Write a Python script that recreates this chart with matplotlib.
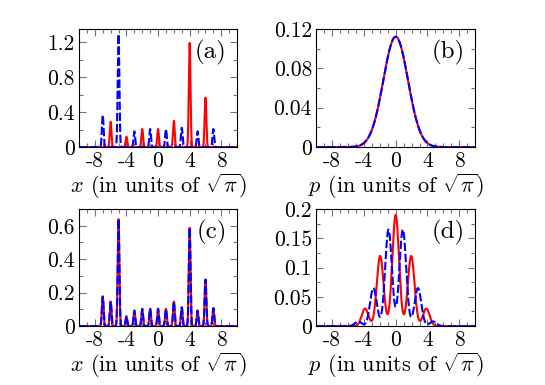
import matplotlib
matplotlib.use('Agg')
import matplotlib.pyplot as plt
from matplotlib.ticker import MultipleLocator, FuncFormatter
import numpy as np

# peak positions / heights
# panel (a): position distributions of the two states
a_red_pos = [-6, -4, -2, 0, 2, 4, 6]
a_red_height = [0.29, 0.118, 0.206, 0.206, 0.30, 1.19, 0.565]
a_blue_pos = [-7, -5, -3, -1, 1, 3, 5, 7]
a_blue_height = [0.367, 1.29, 0.18, 0.206, 0.206, 0.22, 0.18, 0.206]
a_width = 0.105

# panel (b): momentum distributions (both the same gaussian)
b_pos = [0]
b_height = [0.112]
b_width = 1.55

# panel (c): position distributions of the mixture
c_pos = [-7, -6, -5, -4, -3, -2, -1, 0, 1, 2, 3, 4, 5, 6, 7]
c_height = [0.177, 0.147, 0.64, 0.058, 0.093, 0.103, 0.103, 0.103,
            0.103, 0.147, 0.112, 0.588, 0.093, 0.278, 0.107]
c_width = 0.105

# panel (d): momentum distributions with fringes
d_red_pos = [-3.85, -1.95, 0, 1.95, 3.85]
d_red_height = [0.03, 0.12, 0.19, 0.12, 0.03]
d_blue_pos = [-4.7, -2.8, -0.9, 0.9, 2.8, 4.7]
d_blue_height = [0.008, 0.065, 0.165, 0.165, 0.065, 0.008]
d_width = 0.42

xticks = [-8, -4, 0, 4, 8]
xticklabels = ['-8', '-4', '0', '4', '8']

plt.rcParams['font.family'] = ['cmr10', 'DejaVu Serif']
plt.rcParams['mathtext.fontset'] = 'cm'
plt.rcParams['axes.unicode_minus'] = False
plt.rcParams['axes.formatter.use_mathtext'] = True

grid = np.linspace(-10, 10, 4001)


# build a curve out of a list of gaussian peaks
def peaks(pos: list, height: list, width: float):
    y = np.zeros_like(grid)
    for p, h in zip(pos, height):
        y += h * np.exp(-(grid - p) ** 2 / (2 * width ** 2))
    return y


# common look of one panel
def style_panel(ax, ymax, ymajor, yminor, xlabel, tag):
    ax.set_xlim(-10, 10)
    ax.set_ylim(0, ymax)
    ax.set_xticks(xticks)
    ax.set_xticklabels(xticklabels)
    ax.xaxis.set_minor_locator(MultipleLocator(1))
    ax.yaxis.set_major_locator(MultipleLocator(ymajor))
    ax.yaxis.set_minor_locator(MultipleLocator(yminor))
    ax.yaxis.set_major_formatter(FuncFormatter(lambda v, p: '{0:g}'.format(round(v, 4))))
    ax.tick_params(which='both', direction='in', top=True, right=True,
                   color='0.45', labelsize=15.5, pad=3)
    ax.tick_params(which='major', length=5, width=0.8)
    ax.tick_params(which='minor', length=2.8, width=0.8)
    for s in ax.spines.values():
        s.set_linewidth(0.8)
    ax.set_xlabel(xlabel, fontsize=16, labelpad=1)
    ax.text(0.935, 0.8, tag, transform=ax.transAxes, ha='right', va='center', fontsize=18)


def draw(ax, red, blue):
    ax.plot(grid, red, color='red', lw=1.5)
    ax.plot(grid, blue, color='blue', lw=1.5, dashes=(4, 1.3))


fig = plt.figure(figsize=(5.45, 3.85), dpi=100)

xl = r'$x$ (in units of $\sqrt{\pi}$)'
pl = r'$p$ (in units of $\sqrt{\pi}$)'

ax = fig.add_axes([0.145, 0.618, 0.29, 0.307])
draw(ax, peaks(a_red_pos, a_red_height, a_width), peaks(a_blue_pos, a_blue_height, a_width))
style_panel(ax, 1.35, 0.4, 0.2, xl, '(a)')

ax = fig.add_axes([0.58, 0.618, 0.292, 0.307])
draw(ax, peaks(b_pos, b_height, b_width), peaks(b_pos, b_height, b_width))
style_panel(ax, 0.12, 0.04, 0.02, pl, '(b)')

ax = fig.add_axes([0.145, 0.153, 0.29, 0.304])
draw(ax, peaks(c_pos, c_height, c_width), peaks(c_pos, c_height, c_width))
style_panel(ax, 0.7, 0.2, 0.1, xl, '(c)')

ax = fig.add_axes([0.58, 0.153, 0.292, 0.304])
draw(ax, peaks(d_red_pos, d_red_height, d_width), peaks(d_blue_pos, d_blue_height, d_width))
style_panel(ax, 0.2, 0.05, 0.025, pl, '(d)')

plt.savefig('out.png', dpi=100)
plt.close()
